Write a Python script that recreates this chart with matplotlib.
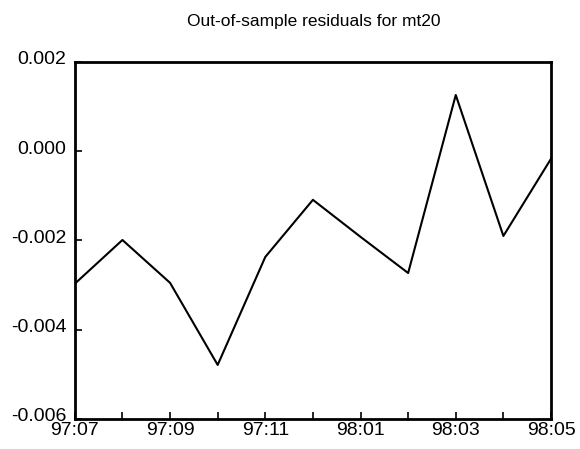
import matplotlib.pyplot as plt
import matplotlib.transforms as mtransforms
import numpy as np

plt.rcParams['font.family'] = ['Liberation Sans', 'DejaVu Sans']

months = ["97:07", "97:08", "97:09", "97:10", "97:11", "97:12",
          "98:01", "98:02", "98:03", "98:04", "98:05"]
residuals = [-0.00297, -0.00199, -0.00295, -0.00479, -0.00237, -0.00109,
             -0.00192, -0.00273, 0.00126, -0.00190, -0.00017]
yticks = [-0.006, -0.004, -0.002, 0.000, 0.002]

fig = plt.figure(figsize=(5.8, 4.49), dpi=100)
ax = fig.add_axes([0.129, 0.067, 0.821, 0.795])

x = np.arange(len(months))
ax.plot(x, residuals, color='black', linewidth=1.5)

ax.set_xlim(0, len(months) - 1)
ax.set_ylim(-0.006, 0.002)
ax.set_xticks(x)
ax.set_xticklabels([m if i % 2 == 0 else "" for i, m in enumerate(months)])
ax.set_yticks(yticks)
ax.set_yticklabels([f"{v:.3f}" for v in yticks])
ax.tick_params(direction='in', length=5, width=1.2, labelsize=14)
ax.tick_params(axis='y', pad=6)
ax.tick_params(axis='x', pad=2)
for s in ax.spines.values():
    s.set_linewidth(2)

# nudge y labels up a little, like the original
shift = mtransforms.ScaledTranslation(0, 3 / 72, fig.dpi_scale_trans)
for lab in ax.get_yticklabels():
    lab.set_transform(lab.get_transform() + shift)

fig.text(0.541, 0.952, "Out-of-sample residuals for mt20", ha='center', va='center', fontsize=12.5)

fig.savefig("out.png")
